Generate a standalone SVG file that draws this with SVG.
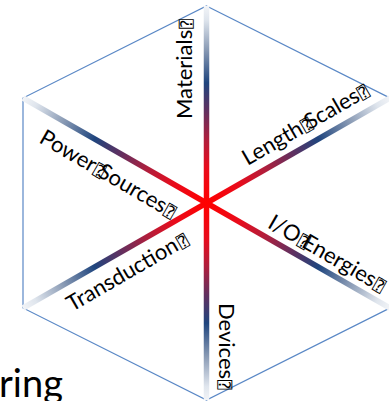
<svg xmlns="http://www.w3.org/2000/svg" width="389" height="401" viewBox="0 0 389 401">
  <defs>
    <!-- spoke colour runs from red at the hub, through navy, to near-white at the rim -->
    <linearGradient id="spokeGrad" x1="0" y1="0" x2="1" y2="0">
      <stop offset="0" stop-color="#ff0000"/>
      <stop offset="0.18" stop-color="#e80c1c"/>
      <stop offset="0.32" stop-color="#b01e3c"/>
      <stop offset="0.47" stop-color="#603060"/>
      <stop offset="0.61" stop-color="#1f457e"/>
      <stop offset="0.78" stop-color="#8a9bb5"/>
      <stop offset="0.93" stop-color="#dfe5ed"/>
      <stop offset="1" stop-color="#f2f4f7"/>
    </linearGradient>
  </defs>
  <style>
    .lbl{font-family:Lato,"Open Sans",sans-serif;font-size:22px;fill:#000}
    .q{font-family:"DejaVu Sans Mono","DejaVu Sans",monospace;font-size:16px}
    .big{font-family:Lato,"Open Sans",sans-serif;font-size:38px;fill:#000}
    .hex{fill:none;stroke:#5a88c6;stroke-width:1.2}
    .spoke{fill:url(#spokeGrad)}
  </style>
  <rect width="389" height="401" fill="#fff"/>

  <g id="frame">
    <polygon class="hex" points="206.5,6 390,98 390,308 206.5,400 23,308 23,98"/>
  </g>

  <g id="connectors" transform="translate(206.5,203)">
    <rect class="spoke" x="0" y="-2.75" width="197" height="5.5" transform="rotate(-90)"/>
    <rect class="spoke" x="0" y="-2.75" width="211.4" height="5.5" transform="rotate(-29.78)"/>
    <rect class="spoke" x="0" y="-2.75" width="211.4" height="5.5" transform="rotate(29.78)"/>
    <rect class="spoke" x="0" y="-2.75" width="197" height="5.5" transform="rotate(90)"/>
    <rect class="spoke" x="0" y="-2.75" width="211.4" height="5.5" transform="rotate(150.22)"/>
    <rect class="spoke" x="0" y="-2.75" width="211.4" height="5.5" transform="rotate(-150.22)"/>
  </g>

  <g id="materials" transform="translate(192,119) rotate(-90)">
    <text class="lbl" x="0" y="0">Materials<tspan class="q" dx="1">⍰</tspan></text>
  </g>
  <g id="length-scales" transform="translate(247.5,166) rotate(-30)">
    <text class="lbl" x="0" y="0">Length<tspan class="q" dx="1">⍰</tspan><tspan dx="-5">Scales</tspan><tspan class="q" dx="1">⍰</tspan></text>
  </g>
  <g id="power-sources" transform="translate(38,142) rotate(30)">
    <text class="lbl" x="0" y="0">Power<tspan class="q" dx="1">⍰</tspan><tspan dx="-5">Sources</tspan><tspan class="q" dx="1">⍰</tspan></text>
  </g>
  <g id="transduction" transform="translate(72,312) rotate(-30)">
    <text class="lbl" x="0" y="0">Transduction<tspan class="q" dx="2">⍰</tspan></text>
  </g>
  <g id="io-energies" transform="translate(266.5,227) rotate(30)">
    <text class="lbl" x="0" y="0">I/O<tspan class="q" dx="1">⍰</tspan><tspan dx="-5">Energies</tspan><tspan class="q" dx="1">⍰</tspan></text>
  </g>
  <g id="devices" transform="translate(219,303) rotate(90)">
    <text class="lbl" x="0" y="0">Devices<tspan class="q" dx="1">⍰</tspan></text>
  </g>

  <g id="caption">
    <text class="big" x="-1" y="397">ring</text>
  </g>
</svg>
